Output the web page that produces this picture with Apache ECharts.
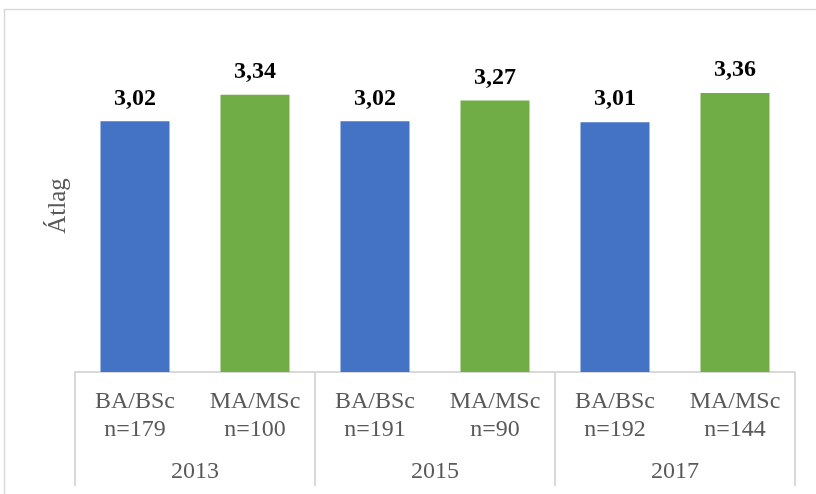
<!DOCTYPE html>
<html>
<head>
<meta charset="utf-8">
<script src="https://cdn.jsdelivr.net/npm/echarts@6/dist/echarts.min.js"></script>
<style>
  html, body { margin: 0; padding: 0; background: #fff; }
  #chart { width: 816px; height: 494px; }
</style>
</head>
<body>
<div id="chart"></div>
<script>
// kategóriák (alsó és felső szint)
var degrees = ["BA/BSc", "MA/MSc", "BA/BSc", "MA/MSc", "BA/BSc", "MA/MSc"];
var sampleSizes = ["n=179", "n=100", "n=191", "n=90", "n=192", "n=144"];
var years = ["2013", "2015", "2017"];
// átlagok
var averages = [3.02, 3.34, 3.02, 3.27, 3.01, 3.36];
var barColors = ["#4472C4", "#70AD47"];

var serif = "'Liberation Serif', 'Times New Roman', serif";
var gridColor = "#d9d9d9";

var chart = echarts.init(document.getElementById("chart"));

var categories = degrees.map(function (d, i) {
  return d + "\n" + sampleSizes[i];
});

var option = {
  animation: false,
  grid: {
    left: 75,
    right: 21,
    top: 40,
    bottom: 122
  },
  graphic: [
    {
      type: "rect",
      shape: { x: 4.5, y: 9.5, width: 840, height: 520 },
      style: { fill: "none", stroke: gridColor, lineWidth: 1.5 },
      silent: true
    }
  ],
  xAxis: [
    {
      type: "category",
      data: categories,
      axisLine: { show: true, lineStyle: { color: gridColor, width: 2 } },
      axisTick: { show: false },
      axisLabel: {
        margin: 16,
        color: "#595959",
        fontFamily: serif,
        fontSize: 24,
        lineHeight: 28
      }
    },
    {
      type: "category",
      data: years,
      position: "bottom",
      axisLine: { show: false },
      axisTick: {
        show: true,
        length: 114,
        lineStyle: { color: gridColor, width: 2 }
      },
      axisLabel: {
        margin: 88,
        color: "#595959",
        fontFamily: serif,
        fontSize: 24
      }
    }
  ],
  yAxis: {
    type: "value",
    min: 0,
    max: 4,
    name: "Átlag",
    nameLocation: "middle",
    nameGap: 4,
    nameTextStyle: {
      color: "#595959",
      fontFamily: serif,
      fontSize: 25
    },
    axisLine: { show: false },
    axisTick: { show: false },
    axisLabel: { show: false },
    splitLine: { show: false }
  },
  series: [
    {
      type: "bar",
      xAxisIndex: 0,
      barWidth: 69,
      data: averages,
      itemStyle: {
        color: function (p) {
          return barColors[p.dataIndex % 2];
        }
      },
      label: {
        show: true,
        position: "top",
        distance: 11,
        color: "#000",
        fontFamily: serif,
        fontWeight: "bold",
        fontSize: 24,
        formatter: function (p) {
          return p.value.toFixed(2).replace(".", ",");
        }
      }
    }
  ]
};

chart.setOption(option);
</script>
</body>
</html>
